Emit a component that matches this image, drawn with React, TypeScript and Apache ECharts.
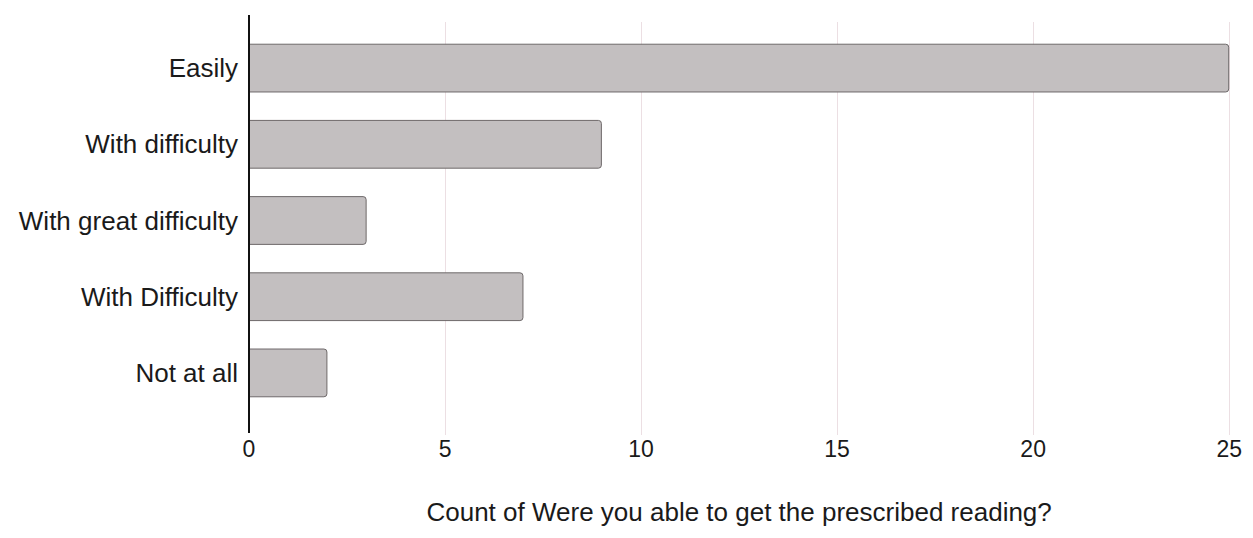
import React, { useEffect, useRef } from "react";
import * as echarts from "echarts";

const categories = ["Easily", "With difficulty", "With great difficulty", "With Difficulty", "Not at all"];
const counts = [25, 9, 3, 7, 2];
const xTicks = [0, 5, 10, 15, 20, 25];
const axisTitle = "Count of Were you able to get the prescribed reading?";

const FONT = "Liberation Sans, Arial, sans-serif";

export default function App() {
  const ref = useRef<HTMLDivElement>(null);
  useEffect(() => {
    const chart = echarts.init(ref.current!, null, { renderer: "svg" });
    chart.setOption({
      animation: false,
      backgroundColor: "#ffffff",
      grid: { left: 241, right: 13, top: 22, bottom: 111, containLabel: false },
      xAxis: {
        type: "value",
        min: xTicks[0],
        max: xTicks[xTicks.length - 1],
        interval: 5,
        axisLine: { show: false },
        axisTick: { show: false },
        splitLine: { show: false },
        axisLabel: { margin: 26, fontFamily: FONT, fontSize: 23, color: "#1a1a1a" },
        name: axisTitle,
        nameLocation: "middle",
        nameGap: 88,
        nameTextStyle: { fontFamily: FONT, fontSize: 26, color: "#1a1a1a" },
      },
      yAxis: {
        type: "category",
        data: categories,
        inverse: true,
        axisLine: { show: false },
        axisTick: { show: false },
        splitLine: { show: false },
        axisLabel: { margin: 11, fontFamily: FONT, fontSize: 26, color: "#1a1a1a" },
      },
      series: [
        {
          type: "bar",
          data: counts,
          barCategoryGap: "36%",
          z: 3,
          itemStyle: {
            color: "#c3bfc0",
            borderColor: "#6e696a",
            borderWidth: 1,
            borderRadius: [0, 3, 3, 0],
          },
        },
      ],
    });
    // grid lines and the vertical axis, extended a little beyond the plot, placed through the x scale
    const lines: any[] = [];
    xTicks.forEach((t) => {
      const x = Math.round(chart.convertToPixel({ xAxisIndex: 0 }, t) as number);
      if (t === 0) {
        lines.push({
          type: "line",
          z: 10,
          shape: { x1: x, y1: 7, x2: x, y2: 425 },
          style: { stroke: "#111111", lineWidth: 2 },
        });
      } else {
        lines.push({
          type: "line",
          z: 0,
          shape: { x1: x + 0.5, y1: 14, x2: x + 0.5, y2: 427 },
          style: { stroke: "#ecdfe3", lineWidth: 1 },
        });
      }
    });
    chart.setOption({ graphic: lines });
    return () => chart.dispose();
  }, []);
  return <div ref={ref} style={{ width: 1237, height: 522 }} />;
}
